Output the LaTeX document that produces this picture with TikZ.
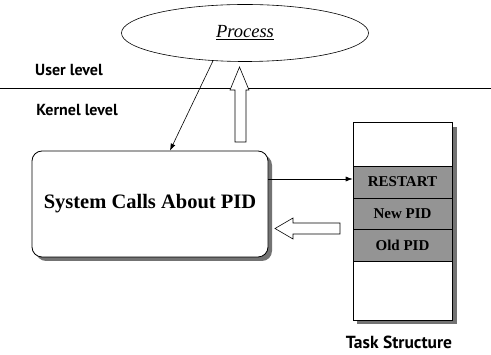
\documentclass[tikz,border=0pt]{standalone}
\usepackage{fontspec}
\setmainfont{Liberation Serif}
\newfontfamily\lblfont{PT Sans}
\usetikzlibrary{shapes.geometric,arrows.meta,calc}
\begin{document}
\begin{tikzpicture}[x=1pt,y=-1pt,
  thinarrow/.style={line width=0.6pt,-{Latex[length=7pt,width=5pt]}},
  level/.style={font=\lblfont\bfseries\fontsize{16}{18}\selectfont},
  cell/.style={draw,line width=0.6pt,minimum width=99pt,inner sep=0pt,font=\bfseries\fontsize{15}{17}\selectfont},
  shade/.style={fill=black!42},
  blockarrow/.style={draw,fill=white,line width=0.6pt}]
\useasboundingbox (0,0) rectangle (491,355);
% level separator
\coordinate (l1) at (0,88);
\coordinate (l2) at (491,88);
\draw[line width=0.6pt] (l1) -- (l2);
\node[level] (ul) at (69,70) {User level};
\node[level] (kl) at (77,110) {Kernel level};
% process
\node[ellipse,draw,line width=0.6pt,minimum width=247pt,minimum height=57pt,inner sep=0pt] (proc) at (245,33)
  {\fontsize{18.5}{22}\selectfont\itshape\underline{Process}};
% system calls box
\fill[black!55,rounded corners=10pt] (36,155) rectangle (272,261);
\node[draw,fill=white,line width=0.8pt,rounded corners=10pt,minimum width=236pt,minimum height=106pt,inner sep=0pt,
  font=\bfseries\fontsize{20.5}{24}\selectfont] (sys) at (150,204) {System Calls About PID};
% task structure
\fill[black!55] (357,127) rectangle (457,324);
\node[cell,fill=white,minimum height=44pt] (ttop) at (402.5,144) {};
\node[cell,shade,minimum height=32pt] (restart) at (402.5,182) {RESTART};
\node[cell,shade,minimum height=31pt] (newpid) at (402.5,213.5) {New PID};
\node[cell,shade,minimum height=32pt] (oldpid) at (402.5,245) {Old PID};
\node[cell,fill=white,minimum height=59pt] (tbot) at (402.5,290.5) {};
\node[level,font=\lblfont\bfseries\fontsize{17.5}{20}\selectfont] (ts) at (399,342) {Task Structure};
% connectors
\draw[thinarrow] (proc.221) -- ($(sys.north)+(20pt,0pt)$);
\draw[thinarrow] ([yshift=25pt]sys.east) -- ([yshift=3pt]restart.west);
% hollow block arrows
\draw[blockarrow] (235,142) -- (235,90) -- (230,90) -- (239.5,67) -- (249,90) -- (246,90) -- (246,142) -- cycle;
\draw[blockarrow] (340,223) -- (293,223) -- (293,218) -- (275,228.5) -- (293,239) -- (293,234) -- (340,234) -- cycle;
\end{tikzpicture}
\end{document}
